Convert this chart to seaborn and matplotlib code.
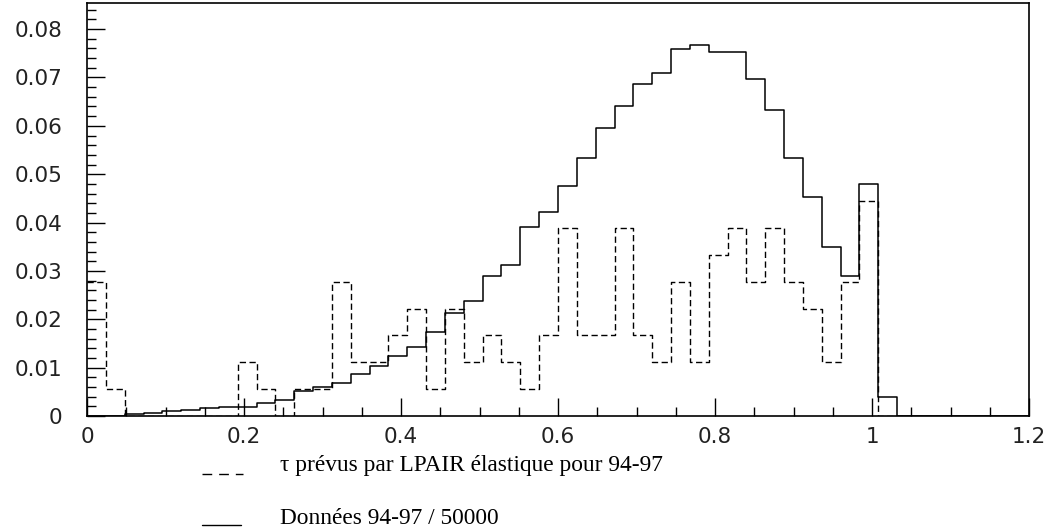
import numpy as np
import pandas as pd
import matplotlib
matplotlib.use('Agg')
import matplotlib.pyplot as plt
import seaborn as sns
from matplotlib.lines import Line2D
from matplotlib.ticker import MultipleLocator, FuncFormatter

# Histogram: 50 bins of width 0.024 between 0 and 1.2 (bin centres below)
bin_centers = [0.012, 0.036, 0.060, 0.084, 0.108, 0.132, 0.156, 0.180, 0.204, 0.228,
               0.252, 0.276, 0.300, 0.324, 0.348, 0.372, 0.396, 0.420, 0.444, 0.468,
               0.492, 0.516, 0.540, 0.564, 0.588, 0.612, 0.636, 0.660, 0.684, 0.708,
               0.732, 0.756, 0.780, 0.804, 0.828, 0.852, 0.876, 0.900, 0.924, 0.948,
               0.972, 0.996, 1.020, 1.044]

# tau predicted by LPAIR (elastic), 94-97
lpair_tau = [0.0278, 0.0056, 0.0, 0.0, 0.0, 0.0, 0.0, 0.0, 0.0111, 0.0056,
             0.0, 0.0056, 0.0056, 0.0278, 0.0111, 0.0111, 0.0167, 0.0222, 0.0056, 0.0222,
             0.0111, 0.0167, 0.0111, 0.0056, 0.0167, 0.0389, 0.0167, 0.0167, 0.0389, 0.0167,
             0.0111, 0.0278, 0.0111, 0.0333, 0.0389, 0.0278, 0.0389, 0.0278, 0.0222, 0.0111,
             0.0278, 0.0444, 0.0, 0.0]

# data 94-97 scaled by 1/50000
data_9497 = [0.0001, 0.0001, 0.0004, 0.0006, 0.0010, 0.0013, 0.0017, 0.0019, 0.0019, 0.0026,
             0.0033, 0.0052, 0.0059, 0.0068, 0.0087, 0.0104, 0.0125, 0.0143, 0.0174, 0.0213,
             0.0237, 0.0290, 0.0312, 0.0390, 0.0422, 0.0476, 0.0534, 0.0596, 0.0641, 0.0687,
             0.0709, 0.0759, 0.0768, 0.0752, 0.0752, 0.0697, 0.0632, 0.0534, 0.0453, 0.0349,
             0.0289, 0.0480, 0.0040, 0.0001]

legend_labels = ["\u03c4 prévus par LPAIR élastique pour 94-97",
                 "Données 94-97 / 50000"]

df = pd.DataFrame({'x': bin_centers, 'tau': lpair_tau, 'data': data_9497})

sns.set_style("white")
plt.rcParams['font.family'] = ['DejaVu Sans']

fig = plt.figure(figsize=(10.56, 5.29), dpi=100)
ax = fig.add_axes([87 / 1056, 1 - 416 / 529, 942 / 1056, 413 / 529])

sns.histplot(data=df, x='x', weights='data', bins=50, binrange=(0, 1.2),
             element='step', fill=False, color='black', linewidth=1.1, ax=ax)
sns.histplot(data=df, x='x', weights='tau', bins=50, binrange=(0, 1.2),
             element='step', fill=False, color='black', linewidth=1.0,
             linestyle=(0, (4.5, 2.5)), ax=ax)

ax.set_xlim(0, 1.2)
ax.set_ylim(0, 0.0854)
ax.set_xlabel('')
ax.set_ylabel('')

fmt = FuncFormatter(lambda v, p: '%g' % round(v, 4))
ax.xaxis.set_major_locator(MultipleLocator(0.2))
ax.xaxis.set_minor_locator(MultipleLocator(0.05))
ax.yaxis.set_major_locator(MultipleLocator(0.01))
ax.yaxis.set_minor_locator(MultipleLocator(0.002))
ax.xaxis.set_major_formatter(fmt)
ax.yaxis.set_major_formatter(fmt)

ax.tick_params(which='both', direction='in', bottom=True, left=True, top=False, right=False,
               color='black', width=1.0, labelsize=15.5, labelcolor='#222222')
ax.tick_params(which='major', length=13)
ax.tick_params(which='minor', length=6.5)
ax.tick_params(axis='y', pad=18)
ax.tick_params(axis='x', pad=8)

for s in ax.spines.values():
    s.set_visible(True)
    s.set_color('black')
    s.set_linewidth(1.2)

# legend below the plot
fig.add_artist(Line2D([202 / 1056, 243 / 1056], [1 - 474 / 529, 1 - 474 / 529],
                      transform=fig.transFigure, color='black', linewidth=1.0,
                      linestyle=(0, (7, 5))))
fig.add_artist(Line2D([202 / 1056, 241 / 1056], [1 - 525 / 529, 1 - 525 / 529],
                      transform=fig.transFigure, color='black', linewidth=1.0))
fig.text(280 / 1056, 1 - 465 / 529, legend_labels[0], family='Liberation Serif',
         fontsize=16.8, va='center', ha='left', color='black')
fig.text(280 / 1056, 1 - 518 / 529, legend_labels[1], family='Liberation Serif',
         fontsize=16.8, va='center', ha='left', color='black')

fig.savefig('out.png', dpi=100)
